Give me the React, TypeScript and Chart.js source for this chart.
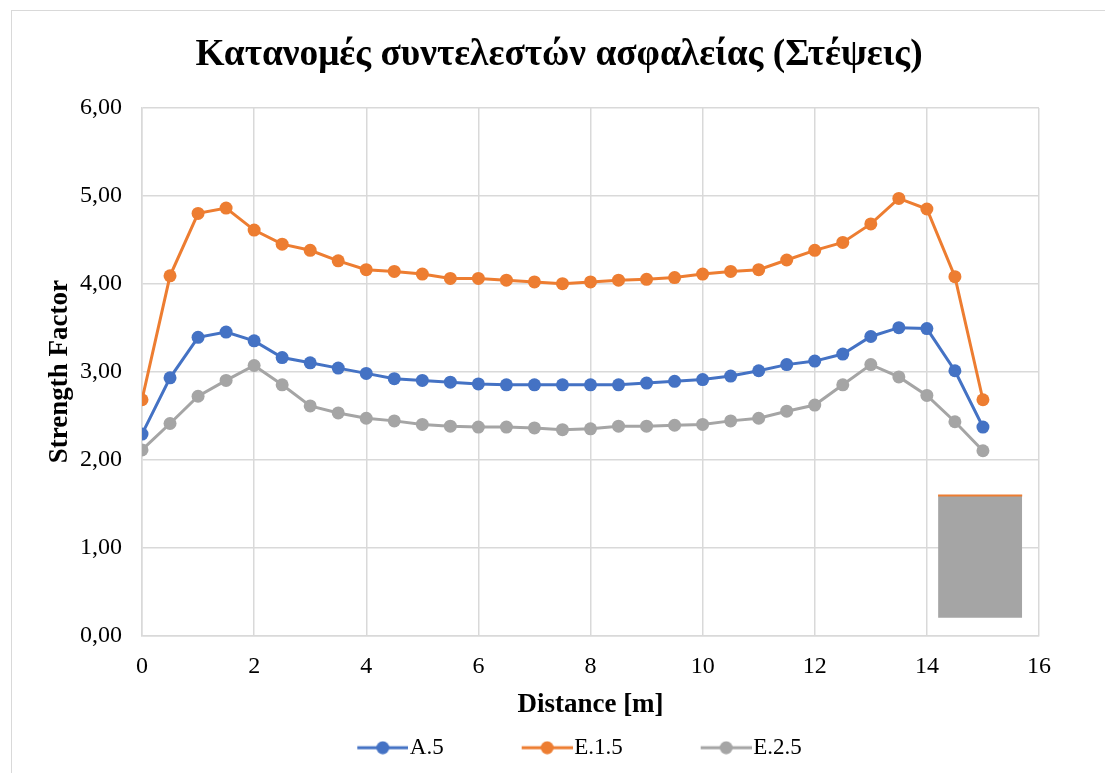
import React, { useEffect, useRef } from "react";
import { Chart, registerables } from "chart.js";

Chart.register(...registerables);

const distances = [0, 0.5, 1, 1.5, 2, 2.5, 3, 3.5, 4, 4.5, 5, 5.5, 6, 6.5, 7, 7.5, 8, 8.5, 9, 9.5, 10, 10.5, 11, 11.5, 12, 12.5, 13, 13.5, 14, 14.5, 15];
const seriesA5 = [2.29, 2.93, 3.39, 3.45, 3.35, 3.16, 3.10, 3.04, 2.98, 2.92, 2.90, 2.88, 2.86, 2.85, 2.85, 2.85, 2.85, 2.85, 2.87, 2.89, 2.91, 2.95, 3.01, 3.08, 3.12, 3.20, 3.40, 3.50, 3.49, 3.01, 2.37];
const seriesE15 = [2.68, 4.09, 4.80, 4.86, 4.61, 4.45, 4.38, 4.26, 4.16, 4.14, 4.11, 4.06, 4.06, 4.04, 4.02, 4.00, 4.02, 4.04, 4.05, 4.07, 4.11, 4.14, 4.16, 4.27, 4.38, 4.47, 4.68, 4.97, 4.85, 4.08, 2.68];
const seriesE25 = [2.11, 2.41, 2.72, 2.90, 3.07, 2.85, 2.61, 2.53, 2.47, 2.44, 2.40, 2.38, 2.37, 2.37, 2.36, 2.34, 2.35, 2.38, 2.38, 2.39, 2.40, 2.44, 2.47, 2.55, 2.62, 2.85, 3.08, 2.94, 2.73, 2.43, 2.10];
const seriesNames = ["A.5", "E.1.5", "E.2.5"];
const seriesColors = ["#4472C4", "#ED7D31", "#A5A5A5"];

// stray grey box in the reference (x range, top, bottom in data units)
const boxX = [14.2, 15.7];
const boxTop = [1.59, 1.59];
const boxBottom = 0.2;

const titleText = "Κατανομές συντελεστών ασφαλείας (Στέψεις)";
const xTitle = "Distance [m]";
const yTitle = "Strength Factor";

const SERIF = "'Times New Roman', 'Liberation Serif', serif";

// legend icon geometry
const ICON_GAP = 41; // empty space before each legend line
const ICON_LINE = 51; // line length
const ICON_SHIFT = 10; // pulls text closer to the line
const BOX_W = ICON_GAP + ICON_LINE - ICON_SHIFT;

function legendIcon(color: string): HTMLCanvasElement {
  const c = document.createElement("canvas");
  c.width = BOX_W + 2 * ICON_SHIFT;
  c.height = 14;
  const ctx = c.getContext("2d")!;
  const x0 = c.width - ICON_LINE;
  ctx.strokeStyle = color;
  ctx.lineWidth = 3;
  ctx.lineCap = "butt";
  ctx.beginPath();
  ctx.moveTo(x0, 7);
  ctx.lineTo(c.width, 7);
  ctx.stroke();
  ctx.fillStyle = color;
  ctx.beginPath();
  ctx.arc(x0 + ICON_LINE / 2, 7, 6.5, 0, Math.PI * 2);
  ctx.fill();
  return c;
}

export default function App() {
  const ref = useRef<HTMLCanvasElement | null>(null);

  useEffect(() => {
    document.body.style.overflow = "hidden";
    const all = [seriesA5, seriesE15, seriesE25];
    const datasets: any[] = all.map((vals, i) => ({
      label: seriesNames[i],
      data: distances.map((x, j) => ({ x, y: vals[j] })),
      borderColor: seriesColors[i],
      backgroundColor: seriesColors[i],
      borderWidth: 3,
      pointRadius: 6.5,
      pointBorderWidth: 0,
      pointBackgroundColor: seriesColors[i],
      tension: 0,
      fill: false,
      order: 3 - i,
    }));
    datasets.push({
      label: "__box",
      data: boxX.map((x, j) => ({ x, y: boxTop[j] })),
      borderColor: "#ED7D31",
      borderWidth: 2,
      backgroundColor: "#A5A5A5",
      pointRadius: 0,
      fill: { value: boxBottom },
      order: 0,
    });

    const chart = new Chart(ref.current!, {
      type: "line",
      data: { datasets },
      options: {
        animation: false,
        responsive: false,
        layout: { padding: { top: 22, left: 67, right: 66, bottom: 3.8 } },
        plugins: {
          title: {
            display: true,
            text: titleText,
            color: "#000",
            font: { family: SERIF, size: 37.4, weight: "bold" },
            padding: { top: 0, bottom: 30 },
          },
          legend: {
            position: "bottom",
            labels: {
              usePointStyle: true,
              pointStyleWidth: BOX_W,
              padding: 37,
              color: "#000",
              font: { family: SERIF, size: 23 },
              generateLabels: (ch: any) =>
                ch.data.datasets
                  .map((ds: any, i: number) => ({
                    text: ds.label,
                    pointStyle: legendIcon(ds.borderColor),
                    fillStyle: ds.borderColor,
                    strokeStyle: ds.borderColor,
                    lineWidth: 0,
                    hidden: false,
                    datasetIndex: i,
                    fontColor: "#000",
                  }))
                  .filter((it: any) => it.text !== "__box"),
            },
          },
          tooltip: { enabled: false },
        },
        scales: {
          x: {
            type: "linear",
            min: 0,
            max: 16,
            ticks: {
              stepSize: 2,
              color: "#000",
              padding: 19,
              font: { family: SERIF, size: 24, lineHeight: 1 },
            },
            grid: { color: "#D9D9D9", lineWidth: 1.5, drawTicks: false },
            border: { color: "#D9D9D9", width: 1.5 },
            title: {
              display: true,
              text: xTitle,
              color: "#000",
              font: { family: SERIF, size: 27, weight: "bold", lineHeight: 1 },
              padding: { top: -5.5, bottom: -19.7 },
            },
          },
          y: {
            type: "linear",
            min: 0,
            max: 6,
            ticks: {
              stepSize: 1,
              color: "#000",
              padding: 20,
              font: { family: SERIF, size: 24 },
              callback: (v: any) => Number(v).toFixed(2).replace(".", ","),
            },
            grid: { color: "#D9D9D9", lineWidth: 1.5, drawTicks: false },
            border: { color: "#D9D9D9", width: 1.5 },
            title: {
              display: true,
              text: yTitle,
              color: "#000",
              font: { family: SERIF, size: 27, weight: "bold" },
              padding: { top: -35, bottom: 0 },
            },
            afterFit: (s: any) => {
              s.width = 63;
            },
          },
        },
      },
    });
    return () => chart.destroy();
  }, []);

  return (
    <div
      style={{
        position: "absolute",
        left: 11,
        top: 10,
        width: 1094,
        height: 763,
        borderTop: "1px solid #D9D9D9",
        borderLeft: "1px solid #D9D9D9",
        background: "#fff",
      }}
    >
      <canvas ref={ref} width={1093} height={762} style={{ display: "block" }} />
    </div>
  );
}
